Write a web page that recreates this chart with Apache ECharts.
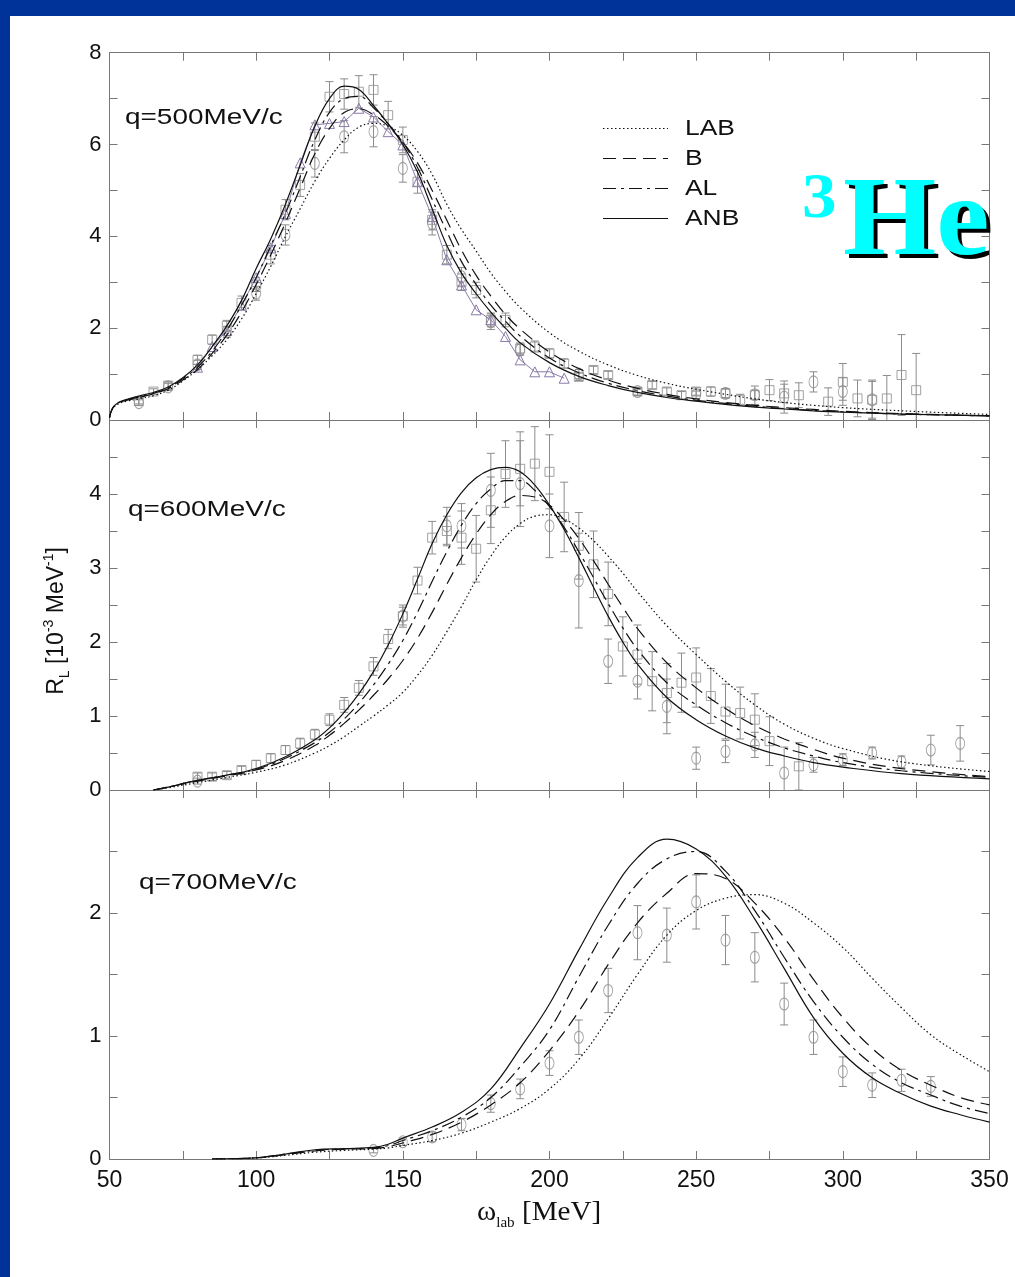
<!DOCTYPE html>
<html>
<head>
<meta charset="utf-8">
<script src="https://cdn.jsdelivr.net/npm/echarts@6/dist/echarts.min.js"></script>
<style>
html, body { margin: 0; padding: 0; background: #fff; }
#main { width: 1015px; height: 1277px; }
</style>
</head>
<body>
<div id="main"></div>
<script>
// x grids of the model curves (MeV)
var x500 = [50,51,53,56,60,65,70,75,80,85,90,95,100,105,110,115,120,125,130,135,140,145,150,155,160,165,170,175,180,185,190,200,210,220,230,240,250,260,270,280,290,300,320,350];
var x600 = [65,70,80,90,100,110,120,125,130,135,140,145,150,155,160,165,170,175,180,185,190,195,200,205,210,215,220,225,230,240,250,260,270,280,290,300,320,350];
var x700 = [85,90,100,110,120,130,140,145,150,160,170,180,190,200,210,220,230,240,250,260,270,280,290,300,310,320,330,340,350];

// q = 500 MeV/c
var lab500 = [0.05,0.24,0.35,0.41,0.46,0.53,0.65,0.85,1.1,1.4,1.75,2.2,2.75,3.35,4.0,4.6,5.2,5.7,6.1,6.38,6.46,6.4,6.2,5.85,5.35,4.7,4.15,3.68,3.2,2.8,2.45,1.9,1.5,1.2,0.97,0.8,0.67,0.56,0.46,0.38,0.32,0.27,0.2,0.12];
var b500   = [0.05,0.25,0.37,0.43,0.49,0.57,0.68,0.87,1.1,1.45,1.85,2.35,2.95,3.6,4.3,5.05,5.8,6.35,6.7,6.78,6.65,6.4,6.05,5.6,5.0,4.35,3.7,3.15,2.7,2.3,1.98,1.48,1.12,0.87,0.69,0.56,0.46,0.38,0.32,0.27,0.23,0.19,0.14,0.09];
var al500  = [0.05,0.25,0.37,0.44,0.5,0.58,0.7,0.9,1.15,1.5,1.95,2.5,3.1,3.8,4.5,5.3,6.1,6.7,7.0,7.05,6.8,6.45,6.05,5.5,4.8,4.1,3.45,2.95,2.5,2.15,1.83,1.35,1.03,0.8,0.64,0.52,0.43,0.36,0.3,0.25,0.21,0.18,0.13,0.09];
var anb500 = [0.05,0.25,0.38,0.45,0.52,0.6,0.72,0.92,1.2,1.6,2.05,2.6,3.3,3.95,4.7,5.55,6.4,7.0,7.27,7.2,6.85,6.45,6.0,5.4,4.6,3.8,3.2,2.75,2.35,2.0,1.68,1.25,0.95,0.75,0.6,0.49,0.41,0.34,0.28,0.24,0.2,0.17,0.13,0.09];

// q = 600 MeV/c
var lab600 = [0,0.03,0.1,0.17,0.24,0.34,0.5,0.6,0.72,0.86,1.0,1.15,1.32,1.55,1.82,2.14,2.48,2.84,3.16,3.42,3.6,3.7,3.72,3.66,3.54,3.37,3.16,2.93,2.68,2.22,1.83,1.47,1.15,0.89,0.7,0.56,0.38,0.25];
var b600   = [0,0.04,0.12,0.19,0.27,0.4,0.6,0.74,0.9,1.08,1.28,1.5,1.75,2.05,2.4,2.78,3.14,3.46,3.72,3.9,3.98,3.96,3.85,3.65,3.4,3.1,2.78,2.47,2.18,1.72,1.38,1.1,0.87,0.69,0.55,0.43,0.29,0.18];
var al600  = [0,0.04,0.13,0.2,0.28,0.43,0.64,0.78,0.96,1.17,1.42,1.7,2.02,2.4,2.82,3.22,3.58,3.87,4.07,4.18,4.18,4.05,3.83,3.55,3.22,2.87,2.52,2.19,1.9,1.45,1.15,0.91,0.72,0.57,0.46,0.37,0.26,0.17];
var anb600 = [0,0.04,0.13,0.2,0.29,0.45,0.68,0.84,1.05,1.3,1.6,1.96,2.38,2.85,3.33,3.72,4.02,4.22,4.33,4.36,4.3,4.12,3.85,3.52,3.14,2.74,2.35,2.0,1.7,1.25,0.95,0.73,0.57,0.46,0.37,0.31,0.22,0.15];

// q = 700 MeV/c
var lab700 = [0,0.002,0.008,0.03,0.055,0.07,0.08,0.09,0.11,0.15,0.21,0.3,0.41,0.57,0.81,1.14,1.5,1.82,2.02,2.12,2.15,2.08,1.92,1.72,1.47,1.23,1.01,0.85,0.71];
var b700   = [0,0.002,0.01,0.035,0.065,0.08,0.085,0.1,0.13,0.2,0.3,0.44,0.62,0.88,1.2,1.58,1.92,2.16,2.32,2.28,2.08,1.8,1.46,1.15,0.9,0.72,0.6,0.5,0.44];
var al700  = [0,0.002,0.01,0.04,0.07,0.082,0.09,0.11,0.15,0.23,0.34,0.5,0.75,1.05,1.48,1.9,2.24,2.44,2.5,2.34,2.02,1.64,1.28,0.99,0.77,0.62,0.52,0.43,0.37];
var anb700 = [0,0.002,0.01,0.04,0.075,0.085,0.095,0.12,0.17,0.26,0.38,0.57,0.9,1.26,1.7,2.12,2.45,2.6,2.52,2.3,1.95,1.55,1.15,0.86,0.66,0.53,0.43,0.36,0.3];

// data points [omega, R_L, error]
var sq500 = [[60,0.41,0.06],[65,0.62,0.06],[70,0.75,0.08],[80,1.31,0.1],[85,1.75,0.1],[90,2.05,0.12],[95,2.55,0.15],[100,2.95,0.15],[105,3.6,0.2],[110,4.58,0.22],[115,5.12,0.25],[120,6.17,0.3],[125,7.04,0.33],[130,7.1,0.33],[135,7.15,0.35],[140,7.19,0.33],[145,6.64,0.3],[150,6.1,0.28],[155,5.19,0.25],[160,4.36,0.22],[165,3.6,0.2],[170,3.0,0.18],[175,2.83,0.17],[180,2.18,0.15],[185,2.18,0.15],[190,1.56,0.12],[195,1.6,0.12],[200,1.45,0.1],[205,1.23,0.1],[210,0.94,0.08],[215,1.09,0.08],[220,0.98,0.08],[230,0.62,0.08],[235,0.76,0.08],[240,0.62,0.08],[245,0.54,0.08],[250,0.62,0.08],[255,0.62,0.1],[260,0.58,0.1],[265,0.44,0.12],[270,0.54,0.2],[275,0.65,0.23],[280,0.58,0.2],[285,0.54,0.27],[295,0.4,0.3],[300,0.83,0.4],[305,0.47,0.4],[310,0.44,0.43],[315,0.47,0.5],[320,0.98,0.88],[325,0.65,0.8]];
var ci500 = [[60,0.38,0.06],[70,0.72,0.08],[80,1.2,0.1],[90,1.92,0.12],[100,2.76,0.15],[110,4.03,0.22],[120,5.59,0.3],[130,6.17,0.35],[140,6.28,0.33],[150,5.48,0.3],[160,4.28,0.25],[170,3.12,0.2],[180,2.14,0.17],[190,1.53,0.12],[210,1.0,0.1],[230,0.62,0.08],[250,0.55,0.08],[260,0.58,0.1],[270,0.55,0.1],[280,0.5,0.35],[290,0.83,0.22],[300,0.62,0.3],[310,0.44,0.4]];
var trX500 = [80,85,90,95,100,105,110,115,120,125,130,135,140,145,150,155,160,165,170,175,180,185,190,195,200,205];
var trY500 = [1.15,1.6,1.95,2.5,3.1,3.75,4.5,5.6,6.43,6.46,6.5,6.79,6.6,6.28,5.99,5.19,4.43,3.49,2.94,2.4,2.18,1.82,1.31,1.05,1.05,0.91];

var sq600 = [[80,0.18,0.05],[85,0.18,0.05],[90,0.2,0.05],[95,0.27,0.05],[100,0.34,0.06],[105,0.43,0.06],[110,0.54,0.06],[115,0.63,0.07],[120,0.75,0.07],[125,0.95,0.08],[130,1.15,0.1],[135,1.38,0.1],[140,1.67,0.12],[145,2.04,0.13],[150,2.35,0.15],[155,2.83,0.18],[160,3.41,0.22],[165,3.5,0.2],[170,3.41,0.36],[175,3.26,0.45],[180,3.78,0.45],[185,4.27,0.45],[190,4.34,0.5],[195,4.41,0.5],[200,4.3,0.5],[205,3.69,0.47],[210,3.3,0.45],[215,3.05,0.45],[220,2.65,0.43],[225,1.94,0.4],[230,1.83,0.4],[235,1.47,0.4],[240,1.31,0.4],[245,1.45,0.4],[250,1.52,0.4],[255,1.27,0.37],[260,1.06,0.37],[265,1.04,0.35],[270,0.95,0.35],[275,0.66,0.33],[285,0.32,0.32]];
var ci600 = [[80,0.12,0.04],[150,2.35,0.12],[165,3.57,0.25],[170,3.57,0.3],[180,4.05,0.5],[190,4.14,0.58],[200,3.57,0.43],[210,2.83,0.64],[220,1.74,0.3],[230,1.47,0.24],[240,1.13,0.37],[250,0.43,0.15],[260,0.52,0.15],[270,0.61,0.17],[280,0.23,0.35],[290,0.34,0.1],[300,0.41,0.08],[310,0.5,0.08],[320,0.38,0.08],[330,0.54,0.2],[340,0.63,0.24]];

var ci700 = [[140,0.07,0.02],[150,0.14,0.03],[160,0.18,0.04],[170,0.28,0.05],[180,0.45,0.07],[190,0.57,0.08],[200,0.78,0.1],[210,0.99,0.14],[220,1.37,0.18],[230,1.84,0.22],[240,1.82,0.22],[250,2.09,0.22],[260,1.78,0.2],[270,1.64,0.2],[280,1.26,0.17],[290,0.99,0.14],[300,0.71,0.12],[310,0.6,0.1],[320,0.64,0.09],[330,0.59,0.08]];

// axis ranges per panel: [max, interval]
var yRanges = [[8, 2], [5, 1], [3, 1]];
var panelLabels = ['q=500MeV/c', 'q=600MeV/c', 'q=700MeV/c'];
var modelNames = ['LAB', 'B', 'AL', 'ANB'];

var FRAME = '#777';
var INK = '#111';
var DATA_GRAY = '#8c8c8c';
var TRI = '#8a7aa8';
var BLUE = '#003399';

var DASH = { LAB: [1.5, 2.5], B: [13, 7], AL: [13, 5, 3, 5], ANB: null };

var grids = [
    { left: 109.5, right: 25.5, top: 52.7, height: 367.3 },
    { left: 109.5, right: 25.5, top: 420, height: 370 },
    { left: 109.5, right: 25.5, top: 790, height: 369 }
];

function xAxisFor(gi, pos, labels) {
    return {
        type: 'value', gridIndex: gi, position: pos, min: 50, max: 350, interval: 50,
        axisLine: { show: true, onZero: false, lineStyle: { color: FRAME, width: 1 } },
        axisTick: { show: true, inside: true, length: 8, lineStyle: { color: FRAME } },
        minorTick: { show: true, splitNumber: 2, length: 8, lineStyle: { color: FRAME } },
        splitLine: { show: false },
        axisLabel: { show: labels, margin: 10, fontSize: 23, color: INK, fontFamily: 'Liberation Sans' }
    };
}

function yAxisFor(gi, pos, labels) {
    var max = yRanges[gi][0];
    return {
        type: 'value', gridIndex: gi, position: pos, min: 0, max: max, interval: yRanges[gi][1],
        axisLine: { show: true, onZero: false, lineStyle: { color: FRAME, width: 1 } },
        axisTick: { show: true, inside: true, length: 8, lineStyle: { color: FRAME } },
        minorTick: { show: true, splitNumber: 2, length: 8, lineStyle: { color: FRAME } },
        splitLine: { show: false },
        axisLabel: {
            show: labels, margin: 8, fontSize: 22, color: INK, fontFamily: 'Liberation Sans',
            formatter: function (v) { return (gi > 0 && v === max) ? '' : String(v); }
        }
    };
}

function curve(name, xs, ys, gi) {
    return {
        type: 'line', name: name, xAxisIndex: gi, yAxisIndex: gi,
        data: xs.map(function (x, i) { return [x, ys[i]]; }),
        symbol: 'none', smooth: 0.4, z: 5, silent: true,
        itemStyle: { color: INK },
        lineStyle: { color: INK, width: 1.2, type: DASH[name] || 'solid' }
    };
}

function errorBars(pts, gi) {
    return {
        type: 'custom', xAxisIndex: gi, yAxisIndex: gi, data: pts, silent: true, z: 2, clip: true,
        renderItem: function (params, api) {
            var x = api.value(0), y = api.value(1), e = api.value(2);
            var hi = api.coord([x, y + e]);
            var lo = api.coord([x, y - e]);
            var w = 4;
            var st = { stroke: DATA_GRAY, lineWidth: 1 };
            return {
                type: 'group', children: [
                    { type: 'line', shape: { x1: hi[0], y1: hi[1], x2: lo[0], y2: lo[1] }, style: st },
                    { type: 'line', shape: { x1: hi[0] - w, y1: hi[1], x2: hi[0] + w, y2: hi[1] }, style: st },
                    { type: 'line', shape: { x1: lo[0] - w, y1: lo[1], x2: lo[0] + w, y2: lo[1] }, style: st }
                ]
            };
        }
    };
}

function markers(pts, gi, symbol, size) {
    return {
        type: 'scatter', xAxisIndex: gi, yAxisIndex: gi, silent: true, z: 3,
        data: pts.map(function (p) { return [p[0], p[1]]; }),
        symbol: symbol, symbolSize: size,
        itemStyle: { color: 'rgba(255,255,255,0)', borderColor: DATA_GRAY, borderWidth: 1 }
    };
}

var series = [
    errorBars(sq500, 0), errorBars(ci500, 0),
    markers(sq500, 0, 'rect', 9), markers(ci500, 0, 'circle', [9, 12]),
    {
        type: 'line', xAxisIndex: 0, yAxisIndex: 0, silent: true, z: 4,
        data: trX500.map(function (x, i) { return [x, trY500[i]]; }),
        symbol: 'triangle', symbolSize: 10, showAllSymbol: true,
        lineStyle: { color: TRI, width: 1 },
        itemStyle: { color: 'rgba(255,255,255,0)', borderColor: TRI, borderWidth: 1 }
    },
    curve('LAB', x500, lab500, 0), curve('B', x500, b500, 0),
    curve('AL', x500, al500, 0), curve('ANB', x500, anb500, 0),

    errorBars(sq600, 1), errorBars(ci600, 1),
    markers(sq600, 1, 'rect', 9), markers(ci600, 1, 'circle', [9, 12]),
    curve('LAB', x600, lab600, 1), curve('B', x600, b600, 1),
    curve('AL', x600, al600, 1), curve('ANB', x600, anb600, 1),

    errorBars(ci700, 2), markers(ci700, 2, 'circle', [9, 12]),
    curve('LAB', x700, lab700, 2), curve('B', x700, b700, 2),
    curve('AL', x700, al700, 2), curve('ANB', x700, anb700, 2)
];

var labelY = [118, 510, 883];
var labelX = [125, 128, 139];

function txt(x, y, text, font, fill, z, extra) {
    var el = {
        type: 'text', x: x, y: y, z: z || 50,
        style: { text: text, font: font, fill: fill, align: 'left', verticalAlign: 'middle', textAlign: 'left', textVerticalAlign: 'middle' }
    };
    for (var k in (extra || {})) el[k] = extra[k];
    return el;
}

var graphic = [
    { type: 'rect', shape: { x: 0, y: 0, width: 1015, height: 16 }, style: { fill: BLUE }, z: 100 },
    { type: 'rect', shape: { x: 0, y: 0, width: 10, height: 1277 }, style: { fill: BLUE }, z: 100 },
    // y axis title
    {
        type: 'text', x: 57, y: 621, rotation: Math.PI / 2, z: 50,
        style: {
            text: '{n|R}{sub|L}{n| [10}{sup|-3}{n| MeV}{sup|-1}{n|]}',
            align: 'center', verticalAlign: 'middle', textAlign: 'center', textVerticalAlign: 'middle',
            fill: INK,
            rich: {
                n: { fontSize: 23, fontFamily: 'Liberation Sans', lineHeight: 30, fill: INK },
                sub: { fontSize: 14, fontFamily: 'Liberation Sans', lineHeight: 14, verticalAlign: 'bottom', fill: INK },
                sup: { fontSize: 14, fontFamily: 'Liberation Sans', lineHeight: 14, verticalAlign: 'top', fill: INK }
            }
        }
    },
    // x axis title
    {
        type: 'text', x: 477, y: 1213, z: 50, scaleX: 1.08,
        style: {
            text: '{n|\u03c9}{sub|lab}{n| [MeV]}',
            align: 'left', verticalAlign: 'middle', textAlign: 'left', textVerticalAlign: 'middle',
            fill: INK,
            rich: {
                n: { fontSize: 27, fontFamily: 'Liberation Serif', lineHeight: 34, fill: INK },
                sub: { fontSize: 14, fontFamily: 'Liberation Serif', lineHeight: 14, verticalAlign: 'bottom', fill: INK }
            }
        }
    },
    // 3He with shadow
    txt(847, 229, 'He', 'bold 112px "Liberation Serif"', '#000', 60, { scaleX: 1.07 }),
    txt(843, 225, 'He', 'bold 112px "Liberation Serif"', '#00ffff', 61, { scaleX: 1.07 }),
    txt(802, 200, '3', 'bold 64px "Liberation Serif"', '#00ffff', 61, { scaleX: 1.08 })
];

panelLabels.forEach(function (t, i) {
    graphic.push(txt(labelX[i], labelY[i], t, '22px "Liberation Sans"', INK, 50, { scaleX: 1.27 }));
});

// legend keys
modelNames.forEach(function (name, i) {
    var y = 128.5 + i * 30;
    graphic.push({
        type: 'line', z: 50,
        shape: { x1: 603, y1: y, x2: 668, y2: y },
        style: { stroke: INK, lineWidth: 1.2, lineDash: DASH[name] }
    });
    graphic.push(txt(685, y, name, '22px "Liberation Sans"', INK, 50, { scaleX: 1.2 }));
});

var option = {
    animation: false,
    backgroundColor: '#fff',
    grid: grids,
    xAxis: [
        xAxisFor(0, 'bottom', false), xAxisFor(1, 'bottom', false), xAxisFor(2, 'bottom', true),
        xAxisFor(0, 'top', false), xAxisFor(1, 'top', false), xAxisFor(2, 'top', false)
    ],
    yAxis: [
        yAxisFor(0, 'left', true), yAxisFor(1, 'left', true), yAxisFor(2, 'left', true),
        yAxisFor(0, 'right', false), yAxisFor(1, 'right', false), yAxisFor(2, 'right', false)
    ],
    graphic: graphic,
    series: series
};

var chart = echarts.init(document.getElementById('main'), null, { renderer: 'canvas' });
chart.setOption(option);
</script>
</body>
</html>
